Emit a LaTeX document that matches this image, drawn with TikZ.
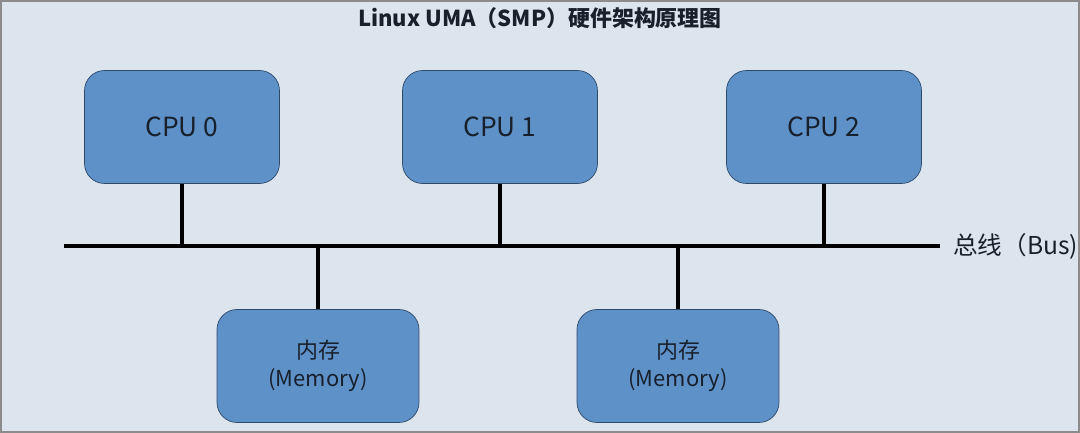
\documentclass[tikz,border=0pt]{standalone}
\usepackage{fontspec}
\setmainfont{Noto Sans CJK SC}
\usetikzlibrary{positioning}
\definecolor{bgblue}{HTML}{DCE5EE}
\definecolor{boxblue}{HTML}{5E91C8}
\definecolor{boxline}{HTML}{2E4A6B}
\definecolor{txtdark}{HTML}{18202C}
\begin{document}
\begin{tikzpicture}[x=0.02cm,y=-0.02cm,every node/.style={font=\fontsize{10}{12}\selectfont,text=txtdark},
 cpubox/.style={draw=boxline,fill=boxblue,rounded corners=0.4cm,minimum width=3.9cm,minimum height=2.26cm,font=\fontsize{15}{17}\selectfont},
 membox/.style={draw=boxline,fill=boxblue,rounded corners=0.4cm,minimum width=4.04cm,minimum height=2.26cm,align=center,font=\fontsize{12.5}{16}\selectfont},
 wire/.style={line width=2.8pt}]
\useasboundingbox (0,0) rectangle (1080,433);
\draw[fill=bgblue,draw=black!45,line width=0.6pt] (1,1) rectangle (1079,432);
\node[font=\bfseries\fontsize{12.5}{14}\selectfont] (title) at (540,18) {Linux UMA（SMP）硬件架构原理图};
% bus
\coordinate (busL) at (64,246);
\coordinate (busR) at (940,246);
\draw[wire] (busL) -- (busR);
\node[anchor=west,inner sep=0pt,font=\fontsize{14}{16}\selectfont] (buslabel) at (953,246) {总线（Bus)};
% cpus
\foreach \x/\n in {182/0,500/1,824/2}
 {\node[cpubox] (cpu\n) at (\x,127) {CPU \n};
  \draw[wire] (cpu\n.south) -- (cpu\n.south |- busL);}
% memory
\foreach \x/\n in {318/0,678/1}
 {\node[membox] (mem\n) at (\x,366) {内存\\(Memory)};
  \draw[wire] (mem\n.north) -- (mem\n.north |- busL);}
\end{tikzpicture}
\end{document}
